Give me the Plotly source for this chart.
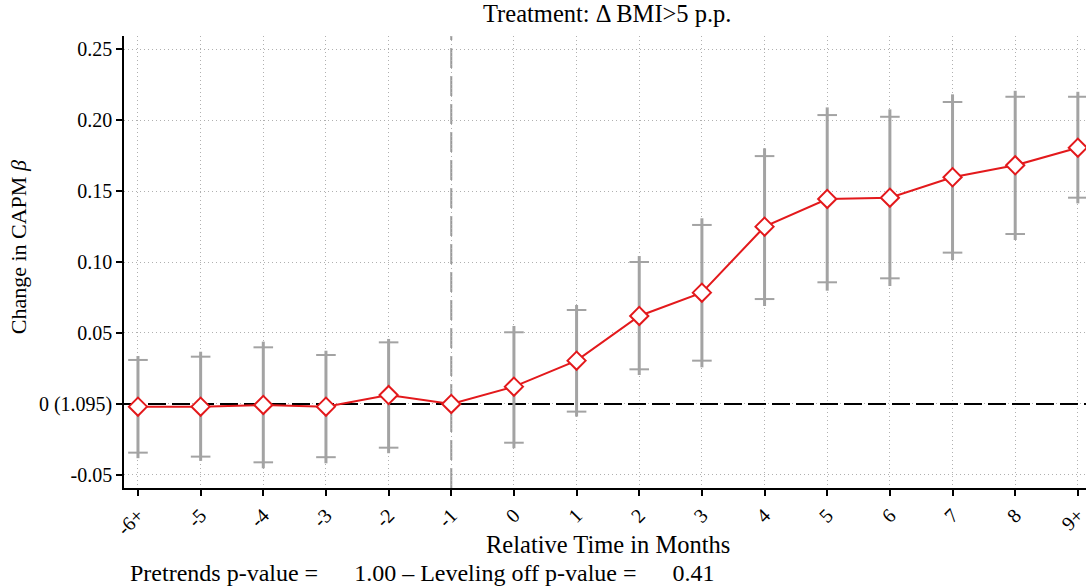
import plotly.graph_objects as go

# ---- data ----
tick_labels = ["-6+", "-5", "-4", "-3", "-2", "-1", "0", "1", "2", "3", "4", "5", "6", "7", "8", "9+"]
estimate = [-0.0019, -0.0019, -0.0007, -0.0019, 0.0063, 0.0, 0.0122, 0.0305, 0.0620, 0.0784,
            0.1249, 0.1444, 0.1453, 0.1597, 0.1681, 0.1805]
cap_hi = [0.0310, 0.0333, 0.0399, 0.0345, 0.0434, None, 0.0505, 0.0662, 0.1000, 0.1261,
          0.1746, 0.2035, 0.2023, 0.2127, 0.2164, 0.2164]
cap_lo = [-0.0343, -0.0371, -0.0411, -0.0375, -0.0308, None, -0.0273, -0.0054, 0.0244, 0.0305,
          0.0739, 0.0857, 0.0885, 0.1066, 0.1197, 0.1453]
spike_hi = [0.0338, 0.0368, 0.0439, 0.0375, 0.0458, None, 0.0549, 0.0697, 0.1042, 0.1308,
            0.1801, 0.2089, 0.2075, 0.2181, 0.2206, 0.2199]
spike_lo = [-0.0382, -0.0401, -0.0453, -0.0418, -0.0347, None, -0.0312, -0.0089, 0.0204, 0.0258,
            0.0690, 0.0798, 0.0831, 0.1014, 0.1155, 0.1413]
y_tickvals = [-0.05, 0.0, 0.05, 0.10, 0.15, 0.20, 0.25]
y_ticktext = ["-0.05", "0 (1.095)", "0.05", "0.10", "0.15", "0.20", "0.25"]
ref_period = 5  # index of "-1"
zero_level = 0.0
title_text = "Treatment: \u0394 BMI>5 p.p."
x_title = "Relative Time in Months"
y_title = "Change in CAPM <i>\u03b2</i>"
pretrend_p = 1.00
leveloff_p = 0.41

x = list(range(len(tick_labels)))
X_RANGE = [-0.223, 15.13]
Y_RANGE = [-0.0592, 0.2592]
FONT = "Liberation Serif"
GRAY = "#a3a3a3"
RED = "#e3191c"
SP = "\u00a0" * 6

# spikes as segments
sx, sy = [], []
for i in x:
    if spike_lo[i] is None:
        continue
    sx += [i, i, None]
    sy += [spike_lo[i], spike_hi[i], None]

cx, cy = [], []
for i in x:
    if cap_lo[i] is None:
        continue
    cx += [i, i]
    cy += [cap_lo[i], cap_hi[i]]

fig = go.Figure()
# vertical reference line at the omitted period
fig.add_shape(type="line", xref="x", yref="paper", x0=ref_period, x1=ref_period, y0=0, y1=1,
              line=dict(color="#999999", width=2, dash="20px,8px"), layer="between")
# horizontal zero line (as a trace so it sits above the grid but below markers)
fig.add_trace(go.Scatter(x=X_RANGE, y=[zero_level, zero_level], mode="lines",
                         line=dict(color="black", width=2, dash="18px,6px"),
                         hoverinfo="skip", showlegend=False, cliponaxis=False))
fig.add_trace(go.Scatter(x=sx, y=sy, mode="lines", line=dict(color=GRAY, width=3),
                         hoverinfo="skip", showlegend=False))
fig.add_trace(go.Scatter(x=cx, y=cy, mode="markers",
                         marker=dict(symbol="line-ew", size=14, line=dict(color=GRAY, width=2)),
                         hoverinfo="skip", showlegend=False))
fig.add_trace(go.Scatter(x=x, y=estimate, mode="lines+markers",
                         line=dict(color=RED, width=2),
                         marker=dict(symbol="diamond", size=14, color="white",
                                     line=dict(color=RED, width=2)),
                         showlegend=False))

fig.update_layout(
    width=1089, height=588,
    margin=dict(l=124, r=1, t=36, b=100),
    paper_bgcolor="white", plot_bgcolor="white",
    font=dict(family=FONT, size=20, color="black"),
    showlegend=False,
    annotations=[
        dict(text=title_text, x=0.503, y=1.0487, xref="paper", yref="paper",
             xanchor="center", yanchor="middle", showarrow=False, font=dict(size=24.5)),
        dict(text=x_title, x=0.503, y=-0.126, xref="paper", yref="paper",
             xanchor="center", yanchor="middle", showarrow=False, font=dict(size=24.5)),
        dict(text=y_title, x=-0.11, y=0.533, xref="paper", yref="paper", textangle=-90,
             xanchor="center", yanchor="middle", showarrow=False, font=dict(size=22)),
        dict(text="Pretrends p-value =" + SP + "%.2f \u2013 Leveling off p-value =" % pretrend_p + SP + "%.2f" % leveloff_p,
             x=0.00415, y=-0.188, xref="paper", yref="paper", showarrow=False,
             xanchor="left", yanchor="middle", font=dict(size=24)),
    ],
    xaxis=dict(
        range=X_RANGE, tickmode="array", tickvals=x, ticktext=tick_labels,
        tickangle=-45, ticks="outside", ticklen=6, tickwidth=1.5, tickcolor="black",
        ticklabeloverflow="allow",
        showline=True, linecolor="black", linewidth=1.5,
        showgrid=True, gridcolor="#b0b0b0", griddash="1px,3px", gridwidth=1,
        zeroline=False, tickfont=dict(size=20),
    ),
    yaxis=dict(
        range=Y_RANGE, tickmode="array", tickvals=y_tickvals, ticktext=y_ticktext,
        ticks="outside", ticklen=6, tickwidth=1.5, tickcolor="black",
        showline=True, linecolor="black", linewidth=1.5,
        showgrid=True, gridcolor="#b0b0b0", griddash="1px,3px", gridwidth=1,
        zeroline=False, tickfont=dict(size=20),
    ),
)

fig.write_html("out.html")
